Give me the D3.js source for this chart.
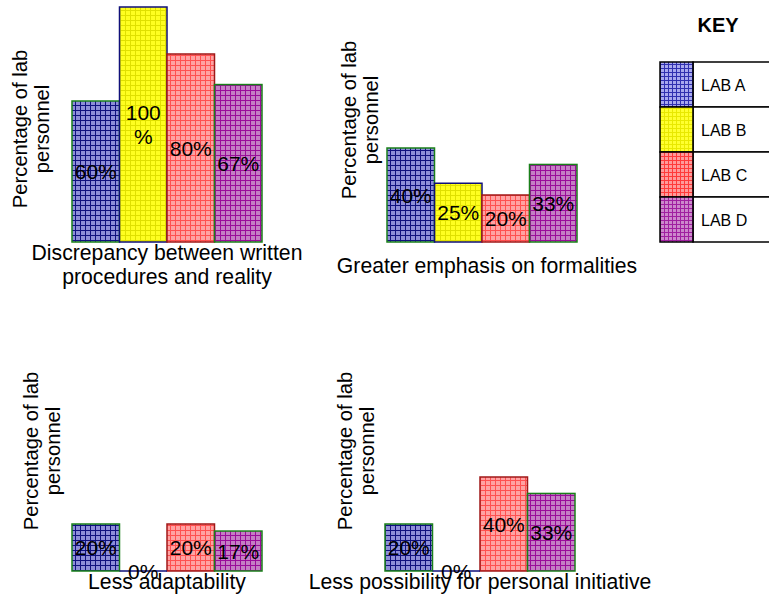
<!DOCTYPE html>
<html>
<head>
<meta charset="utf-8">
<script src="https://cdn.jsdelivr.net/npm/d3@7/dist/d3.min.js"></script>
<style>
  html, body { margin: 0; padding: 0; background: #fff; }
  svg { display: block; font-family: "Liberation Sans", Arial, sans-serif; }
</style>
</head>
<body>
<svg id="chart" width="769" height="599"></svg>
<script>
// ---- data ----
const labs = ["LAB A", "LAB B", "LAB C", "LAB D"];
const categories = [
  ["Discrepancy between written", "procedures and reality"],
  ["Greater emphasis on formalities"],
  ["Less adaptability"],
  ["Less possibility for personal initiative"]
];
const labA = [60, 40, 20, 20];
const labB = [100, 25, 0, 0];
const labC = [80, 20, 20, 40];
const labD = [67, 33, 17, 33];
const axisTitle = ["Percentage of lab", "personnel"];
const legendTitle = "KEY";

// ---- styles ----
const fillBg   = ["#8e8ed8", "#ffff20", "#ffa2a2", "#c47ec4"];
const gridLine = ["#10107e", "#e0e000", "#ff5050", "#9a0c9a"];
const keyBg    = ["#a8a8ee", "#ffff30", "#ff9a9a", "#cc88cc"];
const keyLine  = ["#3030b0", "#e8e800", "#ff3a3a", "#a020a0"];
const strokes  = ["#1a801a", "#10107a", "#a01818", "#1a801a"];

// panel layout: left edge of first bar, baseline, category label placement, axis title placement
const panels = [
  { x0: 72,  base: 242, labelX: 167, labelY: 260, titleX: 27,  titleY: 129 },
  { x0: 387, base: 242, labelX: 487, labelY: 273, titleX: 356, titleY: 120 },
  { x0: 72,  base: 571, labelX: 167, labelY: 589, titleX: 38,  titleY: 451 },
  { x0: 385, base: 571, labelX: 480, labelY: 589, titleX: 352, titleY: 451 }
];
const groupWidth = 190;
const fullHeight = 235;

const svg = d3.select("#chart");
const defs = svg.append("defs");

function makePattern(id, bg, line, size) {
  const p = defs.append("pattern")
    .attr("id", id)
    .attr("patternUnits", "userSpaceOnUse")
    .attr("width", size).attr("height", size);
  p.append("rect").attr("width", size).attr("height", size).attr("fill", bg);
  p.append("path")
    .attr("d", `M0,0.5H${size}M0.5,0V${size}`)
    .attr("stroke", line).attr("stroke-width", 1).attr("fill", "none");
}
labs.forEach((l, i) => {
  makePattern("bar" + i, fillBg[i], gridLine[i], 5);
  makePattern("key" + i, keyBg[i], keyLine[i], 4);
});

const series = [labA, labB, labC, labD];

panels.forEach((pn, k) => {
  const x = d3.scaleBand().domain(labs).range([pn.x0, pn.x0 + groupWidth]).padding(0);
  const y = d3.scaleLinear().domain([0, 100]).range([pn.base, pn.base - fullHeight]);
  const g = svg.append("g");
  const rows = labs.map((l, i) => ({ lab: l, i, v: series[i][k] }));

  g.selectAll("rect.bar").data(rows.filter(d => d.v > 0)).join("rect")
    .attr("class", "bar")
    .attr("x", d => x(d.lab))
    .attr("y", d => y(d.v))
    .attr("width", x.bandwidth())
    .attr("height", d => y(0) - y(d.v))
    .attr("fill", d => `url(#bar${d.i})`)
    .attr("stroke", d => strokes[d.i])
    .attr("stroke-width", 1.5);

  // zero-height bars show as a line on the baseline
  g.selectAll("line.zero").data(rows.filter(d => d.v === 0)).join("line")
    .attr("class", "zero")
    .attr("x1", d => x(d.lab)).attr("x2", d => x(d.lab) + x.bandwidth())
    .attr("y1", y(0)).attr("y2", y(0))
    .attr("stroke", strokes[1]).attr("stroke-width", 1.5);

  // value labels, centred in the bar; wrap "%" when too wide
  rows.forEach(d => {
    const cx = x(d.lab) + x.bandwidth() / 2;
    const cy = (y(d.v) + y(0)) / 2;
    const t = g.append("text")
      .attr("x", cx).attr("text-anchor", "middle")
      .attr("font-size", 21).attr("fill", "#000");
    const label = d.v + "%";
    t.text(label);
    if (t.node().getComputedTextLength() > x.bandwidth() - 2) {
      t.text(null);
      const parts = [String(d.v), "%"];
      parts.forEach((s, j) => {
        t.append("tspan").attr("x", cx)
          .attr("y", cy + (j - (parts.length - 1) / 2) * 24 + 7.5)
          .text(s);
      });
    } else {
      t.attr("y", cy + 7.5);
    }
  });

  // category label under the group
  g.append("text")
    .attr("text-anchor", "middle")
    .attr("font-size", 21.2)
    .selectAll("tspan").data(categories[k]).join("tspan")
    .attr("x", pn.labelX)
    .attr("y", (d, j) => pn.labelY + j * 24)
    .text(d => d);

  // axis title, rotated
  const at = g.append("text")
    .attr("transform", `translate(${pn.titleX},${pn.titleY}) rotate(-90)`)
    .attr("text-anchor", "middle")
    .attr("font-size", 20.2);
  at.selectAll("tspan").data(axisTitle).join("tspan")
    .attr("x", 0).attr("y", (d, j) => j * 22)
    .text(d => d);
});

// ---- legend ----
const key = svg.append("g");
key.append("text")
  .attr("x", 718).attr("y", 32)
  .attr("text-anchor", "middle")
  .attr("font-size", 20).attr("font-weight", "bold")
  .text(legendTitle);

const ky = d3.scaleBand().domain(labs).range([62, 242]).padding(0);
const keyRows = key.selectAll("g.row").data(labs).join("g").attr("class", "row");
keyRows.append("rect")
  .attr("x", 693).attr("y", d => ky(d))
  .attr("width", 90).attr("height", ky.bandwidth())
  .attr("fill", "#fff").attr("stroke", "#000").attr("stroke-width", 1.5);
keyRows.append("rect")
  .attr("x", 660).attr("y", d => ky(d))
  .attr("width", 33).attr("height", ky.bandwidth())
  .attr("fill", (d, i) => `url(#key${i})`)
  .attr("stroke", "#000").attr("stroke-width", 1.5);
keyRows.append("text")
  .attr("x", 701).attr("y", d => ky(d) + ky.bandwidth() / 2 + 6)
  .attr("font-size", 16)
  .text(d => d);
</script>
</body>
</html>
